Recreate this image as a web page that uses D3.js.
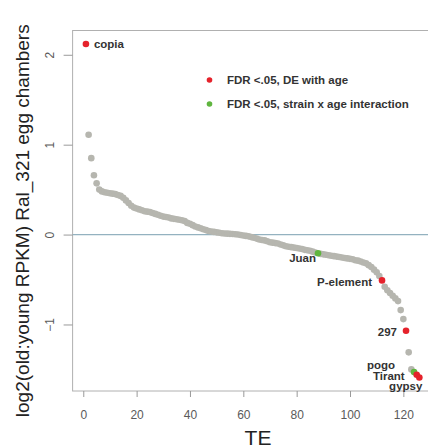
<!DOCTYPE html>
<html><head><meta charset="utf-8">
<script src="https://cdn.jsdelivr.net/npm/d3@7"></script>
<style>body{margin:0;background:#fff}svg{display:block}</style>
</head><body>
<script>
const teValues = [2.12,1.11,0.85,0.66,0.57,0.50,0.48,0.47,0.465,0.46,
0.455,0.45,0.44,0.43,0.41,0.38,0.35,0.32,0.30,0.29,
0.28,0.27,0.26,0.255,0.25,0.24,0.23,0.22,0.21,0.20,
0.195,0.19,0.18,0.175,0.17,0.165,0.16,0.15,0.13,0.12,
0.105,0.09,0.08,0.07,0.06,0.05,0.04,0.035,0.03,0.025,
0.02,0.015,0.012,0.01,0.008,0.006,0.004,0.0,-0.005,-0.01,
-0.015,-0.02,-0.028,-0.035,-0.045,-0.055,-0.06,-0.065,-0.075,-0.085,
-0.09,-0.095,-0.10,-0.11,-0.12,-0.13,-0.135,-0.14,-0.145,-0.15,
-0.155,-0.16,-0.17,-0.175,-0.18,-0.19,-0.20,-0.207,-0.215,-0.22,
-0.225,-0.23,-0.235,-0.24,-0.245,-0.25,-0.255,-0.26,-0.265,-0.27,
-0.275,-0.285,-0.29,-0.30,-0.31,-0.32,-0.34,-0.36,-0.39,-0.42,
-0.46,-0.51,-0.58,-0.62,-0.65,-0.68,-0.71,-0.74,-0.84,-0.94,
-1.07,-1.31,-1.50,-1.53,-1.56,-1.59];
// significance class per TE index (1-based): "de" = DE with age, "int" = strain x age
const deIndex = [1,112,121,125,126];
const intIndex = [88,124];
const labelNames = ["copia","Juan","P-element","297","pogo","Tirant","gypsy"];
const labelIndex = [1,88,112,121,124,125,126];
const xTicks = [0,20,40,60,80,100,120];
const yTicks = [-1,0,1,2];
const legendLabels = ["FDR <.05, DE with age","FDR <.05, strain x age interaction"];

const W=428,H=448;
const svg=d3.select("body").append("svg").attr("width",W).attr("height",H)
  .style("font-family","'Liberation Sans', Arial, sans-serif");
const x=d3.scaleLinear().domain([-4,131]).range([72.6,432.7]);
const y=d3.scaleLinear().domain([-1.74,2.27]).range([391,30.5]);
const red="#e5222b",green="#5fb53f",grey="#b6b6af",axisCol="#9a9a9a";

// frame
svg.append("rect").attr("x",x(-4)).attr("y",y(2.27)).attr("width",x(131)-x(-4)).attr("height",y(-1.74)-y(2.27))
  .attr("fill","none").attr("stroke","#b0b0b0").attr("stroke-width",1);
// zero line
svg.append("line").attr("x1",x(-4)).attr("x2",x(131)).attr("y1",y(0)).attr("y2",y(0))
  .attr("stroke","#94b2c0").attr("stroke-width",1.2);

// axes
const xa=svg.append("g").attr("transform",`translate(0,${y(-1.74)})`)
  .call(d3.axisBottom(x).tickValues(xTicks).tickSize(6).tickPadding(13).tickFormat(d3.format("d")));
xa.select(".domain").remove();
xa.selectAll("line").attr("stroke",axisCol);
xa.selectAll("text").attr("fill","#5a5a5a").style("font-size","12px");
const ya=svg.append("g").attr("transform",`translate(${x(-4)},0)`)
  .call(d3.axisLeft(y).tickValues(yTicks).tickSize(9).tickFormat(d=>d<0?"\u2212"+(-d):d));
ya.select(".domain").remove();
ya.selectAll("line").attr("stroke",axisCol);
ya.selectAll("text").attr("fill","#5a5a5a").style("font-size","12px")
  .attr("text-anchor","middle").attr("x",0).attr("dy",0)
  .attr("transform","translate(-19,0) rotate(-90)");

// points
const pts=teValues.map((v,i)=>({i:i+1,v,c:deIndex.includes(i+1)?"de":intIndex.includes(i+1)?"int":"ns"}));
const order=pts.filter(p=>p.c==="ns").concat(pts.filter(p=>p.c!=="ns"));
svg.append("g").selectAll("circle").data(order).join("circle")
  .attr("cx",d=>x(d.i)).attr("cy",d=>y(d.v)).attr("r",3.3)
  .attr("fill",d=>d.c==="de"?red:d.c==="int"?green:grey);

// labels
const off={copia:[8,4,"start"],Juan:[-2,9,"end"],"P-element":[-10,6,"end"],"297":[-9,5,"end"],
  pogo:[-19,-3,"end"],Tirant:[-12,5,"end"],gypsy:[3,12,"end"]};
labelNames.forEach((n,k)=>{
  const v=teValues[labelIndex[k]-1],o=off[n];
  svg.append("text").attr("x",x(labelIndex[k])+o[0]).attr("y",y(v)+o[1])
    .attr("text-anchor",o[2]).attr("fill","#333").style("font-size","11.5px").style("font-weight","bold").text(n);
});

// legend
legendLabels.forEach((t,k)=>{
  const ly=80+k*24;
  svg.append("circle").attr("cx",209.5).attr("cy",ly).attr("r",2.8).attr("fill",k?green:red);
  svg.append("text").attr("x",227).attr("y",ly+4).attr("fill","#333").style("font-size","11.5px")
    .style("font-weight","bold").text(t);
});

// titles
svg.append("text").attr("x",258).attr("y",445).attr("text-anchor","middle")
  .attr("fill","#222").style("font-size","21px").text("TE");
svg.append("text").attr("transform",`translate(29,${(y(2.27)+y(-1.74))/2+10}) rotate(-90)`)
  .attr("text-anchor","middle").attr("fill","#222").style("font-size","19px")
  .text("log2(old:young RPKM) Ral_321 egg chambers");
</script>
</body></html>
